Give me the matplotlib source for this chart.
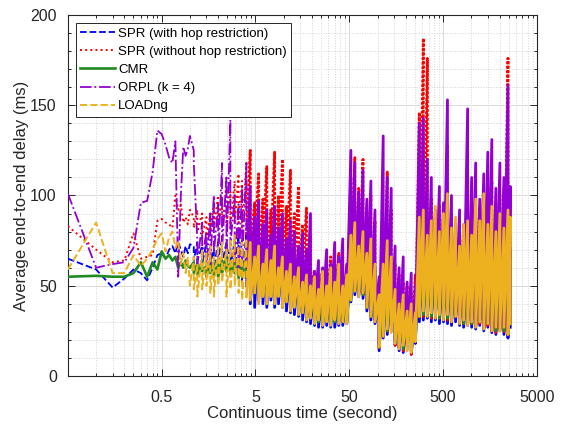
import numpy as np
import matplotlib
matplotlib.use('Agg')
import matplotlib.pyplot as plt
from matplotlib.ticker import FixedLocator, NullFormatter, MultipleLocator

plt.rcParams['font.family'] = ['Liberation Sans', 'DejaVu Sans']

labels = ['SPR (with hop restriction)', 'SPR (without hop restriction)', 'CMR',
          'ORPL (k = 4)', 'LOADng']
colors = ['#0000ff', '#ff0000', '#1f8a1f', '#9400d3', '#edb120']
styles = ['--', ':', '-', '-.', '--']
widths = [1.3, 1.4, 1.9, 1.3, 1.4]
dense_styles = ['-', (0, (1, 0.6)), '-', '-', '-']
dense_widths = [2.0, 2.0, 2.0, 2.0, 2.0]
split_index = 13  # where the trace becomes too dense to show its dash pattern

# sparse start of the run (seconds)
t_early = [0.05, 0.10, 0.15, 0.20, 0.25, 0.30, 0.35, 0.40, 0.45, 0.50,
           0.55, 0.60, 0.65, 0.70, 0.75, 0.80, 0.85, 0.90, 0.95, 1.00]
blue_early = [65, 59, 49, 54, 59, 57, 53, 60, 67, 68, 65, 70, 72, 68, 74, 70, 66, 72, 68, 73]
red_early = [83, 70, 63, 64, 79, 65, 66, 67, 86, 87, 85, 84, 82, 100, 92, 95, 85, 88, 84, 92]
green_early = [55, 55.5, 55, 55, 57, 63, 55, 63, 59, 69, 65, 67, 64, 66, 60, 63, 60, 64, 61, 60]
purple_early = [101, 60, 62, 63, 71, 96, 97, 113, 136, 134, 128, 121, 118, 130, 55, 100, 127, 122, 126, 133]
yellow_early = [59, 85, 57, 57, 67, 61, 65, 70, 76, 79, 69, 77, 80, 71, 75, 62, 68, 57, 66, 50]

# dense part: per sample time, the upper and lower excursion of each series
t_dense = [1.1, 1.2, 1.35, 1.5, 1.65, 1.8, 2.0, 2.2, 2.45, 2.7,
           3.0, 3.3, 3.6, 4.0, 4.4, 4.9, 5.4, 6.0, 6.6, 7.3,
           8.0, 8.8, 9.7, 10.7, 11.8, 13, 14.4, 15.9, 17.5, 19.3,
           21.3, 23.5, 26, 28.7, 31.7, 35, 38.6, 42.6, 47, 52,
           57.3, 63, 70, 77, 85, 94, 104, 115, 127, 140,
           154, 170, 188, 207, 229, 253, 279, 308, 340, 375,
           414, 457, 505, 557, 615, 679, 750, 828, 914, 1009,
           1114, 1230, 1358, 1500, 1655, 1828, 2018, 2228, 2460, 2600]

purple_hi = [125, 75, 85, 80, 90, 100, 95, 118, 110, 142,
             100, 95, 105, 118, 105, 88, 97, 84, 92, 78,
             94, 82, 90, 76, 86, 80, 72, 79, 70, 90,
             58, 64, 60, 70, 62, 74, 66, 76, 62, 125,
             118, 102, 114, 98, 108, 92, 55, 133, 110, 104,
             72, 60, 66, 52, 57, 50, 140, 143, 120, 110,
             92, 105, 96, 153, 100, 84, 92, 80, 148, 110,
             118, 98, 112, 124, 131, 104, 118, 110, 161, 105]
purple_lo = [118, 62, 65, 60, 62, 68, 64, 70, 66, 72,
             62, 58, 62, 60, 58, 60, 54, 58, 52, 56,
             50, 54, 48, 50, 44, 47, 42, 45, 39, 40,
             36, 38, 35, 37, 34, 36, 35, 37, 36, 44,
             50, 46, 48, 40, 36, 32, 17, 24, 28, 26,
             19, 16, 18, 15, 14, 20, 34, 37, 34, 36,
             33, 35, 32, 35, 31, 34, 30, 32, 29, 31,
             28, 31, 27, 30, 26, 28, 26, 28, 24, 30]

yellow_hi = [66, 62, 70, 68, 72, 66, 72, 74, 70, 75,
             78, 72, 74, 76, 74, 66, 72, 62, 70, 64,
             72, 60, 66, 58, 62, 55, 60, 52, 56, 50,
             55, 48, 58, 50, 60, 52, 62, 50, 56, 78,
             85, 72, 80, 68, 76, 62, 45, 62, 75, 66,
             48, 40, 45, 36, 40, 35, 88, 92, 78, 86,
             94, 80, 90, 101, 82, 88, 72, 84, 86, 78,
             98, 86, 101, 84, 94, 80, 90, 82, 92, 88]
yellow_lo = [48, 44, 48, 50, 46, 44, 50, 52, 44, 48,
             50, 46, 42, 44, 42, 46, 40, 44, 40, 44,
             40, 44, 38, 41, 36, 38, 34, 35, 31, 32,
             29, 31, 28, 30, 28, 31, 29, 30, 29, 42,
             47, 44, 46, 38, 33, 30, 16, 22, 26, 24,
             18, 15, 17, 14, 13, 19, 33, 36, 33, 35,
             32, 34, 31, 34, 30, 33, 29, 31, 28, 30,
             27, 30, 26, 29, 25, 27, 25, 27, 23, 29]

red_hi = [88, 92, 90, 88, 90, 96, 100, 98, 104, 102,
          108, 112, 108, 118, 125, 96, 112, 98, 116, 92,
          124, 100, 120, 94, 114, 90, 105, 84, 93, 77,
          58, 55, 60, 62, 66, 64, 68, 66, 58, 110,
          121, 104, 120, 92, 100, 86, 48, 80, 113, 92,
          62, 56, 52, 50, 46, 56, 146, 187, 176, 98,
          92, 94, 88, 128, 90, 82, 78, 84, 110, 96,
          100, 94, 98, 104, 108, 96, 100, 104, 176, 100]
red_lo = [82, 80, 78, 76, 80, 82, 84, 82, 85, 82,
          84, 85, 80, 78, 70, 74, 66, 72, 64, 70,
          62, 68, 60, 64, 58, 60, 54, 56, 48, 50,
          40, 38, 36, 37, 36, 35, 36, 37, 38, 44,
          48, 47, 45, 39, 33, 31, 15, 22, 24, 27,
          17, 15, 14, 18, 12, 19, 32, 33, 34, 32,
          33, 31, 32, 31, 30, 32, 30, 28, 29, 28,
          27, 29, 26, 28, 25, 24, 26, 24, 22, 28]

blue_hi = [72, 74, 72, 74, 72, 70, 74, 76, 74, 72,
           75, 78, 76, 80, 80, 72, 82, 74, 76, 70,
           74, 68, 70, 64, 66, 60, 62, 56, 56, 52,
           50, 52, 48, 52, 50, 54, 50, 52, 48, 66,
           70, 68, 66, 68, 62, 60, 40, 52, 60, 58,
           42, 40, 38, 36, 34, 36, 70, 72, 74, 70,
           72, 70, 70, 72, 70, 68, 64, 64, 66, 68,
           72, 74, 72, 70, 68, 70, 68, 70, 68, 70]
blue_lo = [64, 64, 62, 64, 62, 60, 64, 62, 62, 60,
           58, 56, 52, 50, 40, 38, 42, 40, 38, 42,
           38, 40, 38, 36, 35, 34, 33, 31, 30, 29,
           28, 27, 27, 28, 27, 27, 28, 28, 29, 41,
           45, 44, 43, 36, 31, 29, 14, 21, 23, 25,
           17, 14, 13, 17, 12, 18, 30, 31, 32, 30,
           31, 29, 30, 29, 28, 30, 28, 27, 28, 27,
           26, 28, 25, 27, 24, 23, 25, 23, 21, 27]

green_hi = [63, 62, 64, 61, 65, 63, 62, 64, 66, 63,
            65, 62, 64, 66, 70, 64, 66, 62, 64, 60,
            62, 58, 60, 56, 58, 54, 55, 50, 52, 48,
            48, 46, 45, 48, 46, 48, 46, 48, 45, 60,
            64, 62, 60, 62, 58, 56, 38, 48, 56, 54,
            40, 38, 36, 34, 32, 34, 64, 66, 68, 64,
            66, 64, 64, 66, 64, 62, 58, 58, 60, 62,
            66, 68, 66, 64, 62, 64, 62, 64, 62, 64]
green_lo = [57, 56, 58, 55, 57, 56, 55, 57, 58, 56,
            57, 54, 55, 55, 50, 52, 48, 50, 46, 48,
            45, 47, 43, 44, 40, 41, 37, 37, 33, 34,
            31, 30, 30, 31, 30, 30, 31, 30, 31, 43,
            47, 46, 45, 38, 33, 31, 16, 23, 25, 27,
            19, 16, 15, 19, 14, 20, 33, 34, 35, 33,
            34, 32, 33, 32, 31, 33, 31, 29, 30, 29,
            28, 30, 27, 29, 26, 25, 27, 25, 23, 29]

x_ticks = [0.5, 5, 50, 500, 5000]
x_tick_labels = ['0.5', '5', '50', '500', '5000']
y_ticks = [0, 50, 100, 150, 200]


def zigzag(times, hi, lo):
    xs, ys = [], []
    for t, h, l in zip(times, hi, lo):
        xs += [t, t]
        ys += [h, l]
    return xs, ys


data = [(blue_early, blue_hi, blue_lo),
        (red_early, red_hi, red_lo),
        (green_early, green_hi, green_lo),
        (purple_early, purple_hi, purple_lo),
        (yellow_early, yellow_hi, yellow_lo)]

fig = plt.figure(figsize=(5.61, 4.28), dpi=100)
ax = fig.add_axes([0.121, 0.1215, 0.836, 0.8435])

s0 = split_index
for k, ((e, h, l), lab, c, s, w, ds, dw) in enumerate(
        zip(data, labels, colors, styles, widths, dense_styles, dense_widths)):
    zx1, zy1 = zigzag(t_dense[:s0 + 1], h[:s0 + 1], l[:s0 + 1])
    ax.plot(t_early + zx1, e + zy1, color=c, linestyle=s, linewidth=w,
            label=lab, zorder=3 + k)
    zx2, zy2 = zigzag(t_dense[s0:], h[s0:], l[s0:])
    ax.plot(zx2[1:], zy2[1:], color=c, linestyle=ds, linewidth=dw, zorder=3 + k)

ax.set_xscale('log')
ax.set_xlim(0.05, 5000)
ax.set_ylim(0, 200)
ax.xaxis.set_major_locator(FixedLocator(x_ticks))
ax.set_xticklabels(x_tick_labels)
minors = [m * 0.05 * 10 ** n for n in range(5) for m in range(2, 10)]
ax.xaxis.set_minor_locator(FixedLocator(minors))
ax.xaxis.set_minor_formatter(NullFormatter())
ax.set_yticks(y_ticks)
ax.yaxis.set_minor_locator(MultipleLocator(10))

ax.grid(which='major', color='#dadada', linestyle='-', linewidth=0.7)
ax.grid(which='minor', color='#d4d4d4', linestyle=':', linewidth=0.7)
ax.set_axisbelow(True)
ax.tick_params(which='both', direction='in', top=True, right=True,
               labelsize=11.5, colors='#262626', width=0.7)
ax.tick_params(which='major', length=5)
ax.tick_params(which='minor', length=2.5)
ax.tick_params(axis='x', which='major', pad=10)
ax.tick_params(axis='y', which='major', pad=8)
for sp in ax.spines.values():
    sp.set_color('#262626')
    sp.set_linewidth(0.8)

ax.set_xlabel('Continuous time (second)', fontsize=12, color='#262626', labelpad=1)
ax.set_ylabel('Average end-to-end delay (ms)', fontsize=12, color='#262626', labelpad=1)

leg = ax.legend(loc='upper left', fontsize=9.5, handlelength=2.6, handletextpad=0.25,
                borderpad=0.35, labelspacing=0.45, fancybox=False, framealpha=1,
                edgecolor='#262626', borderaxespad=0.6)
leg.get_frame().set_linewidth(0.7)
leg.set_zorder(20)

fig.savefig('out.png', dpi=100)
